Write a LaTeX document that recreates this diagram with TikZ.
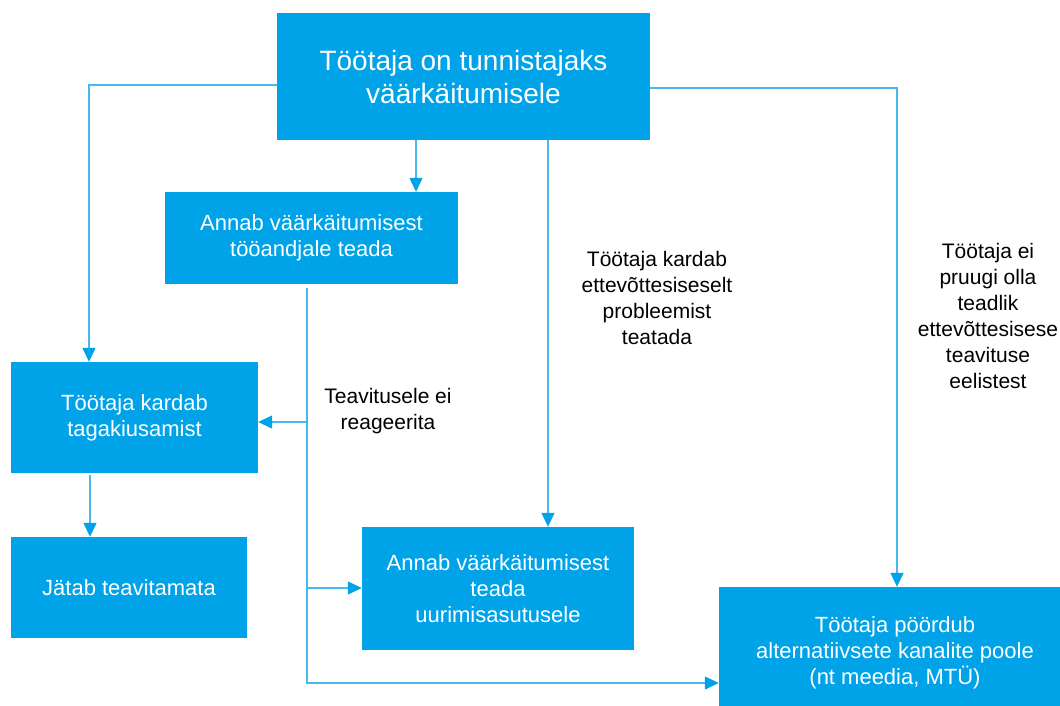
\documentclass[tikz,border=0pt]{standalone}
\usepackage{fontspec}
\setmainfont{Liberation Sans}
\usetikzlibrary{arrows.meta}
\definecolor{boxblue}{RGB}{0,162,232}
\definecolor{lineblue}{RGB}{70,185,238}

\begin{document}
\begin{tikzpicture}[x=1pt,y=-1pt,
    box/.style={fill=boxblue,text=white,align=center,inner sep=0pt,font=\fontsize{22}{26}\selectfont},
    lbl/.style={align=center,inner sep=0pt,font=\fontsize{21}{26}\selectfont},
    conn/.style={lineblue,line width=1.3pt,-{Triangle[length=14pt,width=13pt,color=boxblue]}}]
        \useasboundingbox(0,0)rectangle(1060,706);
        \clip(0,0)rectangle(1060,706);

        \node[box,minimum width=373,minimum height=127,font=\fontsize{28}{33}\selectfont](top)at(463.5,76.5){Töötaja on tunnistajaks\\väärkäitumisele};
        \node[box,minimum width=293,minimum height=92](tooandja)at(311.5,238){Annab väärkäitumisest\\tööandjale teada};
        \node[box,minimum width=247,minimum height=111](kardab)at(134.5,417.5){Töötaja kardab\\tagakiusamist};
        \node[box,minimum width=236,minimum height=101](jatab)at(129,587.5){Jätab teavitamata};
        \node[box,minimum width=272,minimum height=123](uurimis)at(498,588.5){Annab väärkäitumisest\\teada\\uurimisasutusele};
        \node[box,minimum width=352,minimum height=132](alt)at(895,653){Töötaja pöördub\\alternatiivsete kanalite poole\\(nt meedia, MTÜ)};

        \node[lbl](reag)at(388,411){Teavitusele ei\\reageerita};
        \node[lbl](kartus)at(657,298){Töötaja kardab\\ettevõttesiseselt\\probleemist\\teatada};
        \node[lbl](teadlik)at(988,316){Töötaja ei\\pruugi olla\\teadlik\\ettevõttesisese\\teavituse\\eelistest};

        \coordinate(xl)at(89,85);
        \coordinate(xa)at(416,0);
        \coordinate(xu)at(548,0);
        \coordinate(xr)at(897,88);
        \coordinate(ys)at(307,288);
        \coordinate(yk)at(307,422);
        \coordinate(yu)at(307,588);
        \coordinate(yb)at(307,683);
        \coordinate(xj)at(90,475);

        \draw[conn](top.west|-xl)-|(xl|-kardab.north);
        \draw[conn](xa|-top.south)--(xa|-tooandja.north);
        \draw[conn](xu|-top.south)--(xu|-uurimis.north);
        \draw[conn](top.east|-xr)-|(xr|-alt.north);
        \draw[conn](ys)--(yb)--(alt.west|-yb);
        \draw[conn](yk)--(kardab.east|-yk);
        \draw[conn](yu)--(uurimis.west|-yu);
        \draw[conn](xj)--(xj|-jatab.north);
    \end{tikzpicture}
\end{document}
